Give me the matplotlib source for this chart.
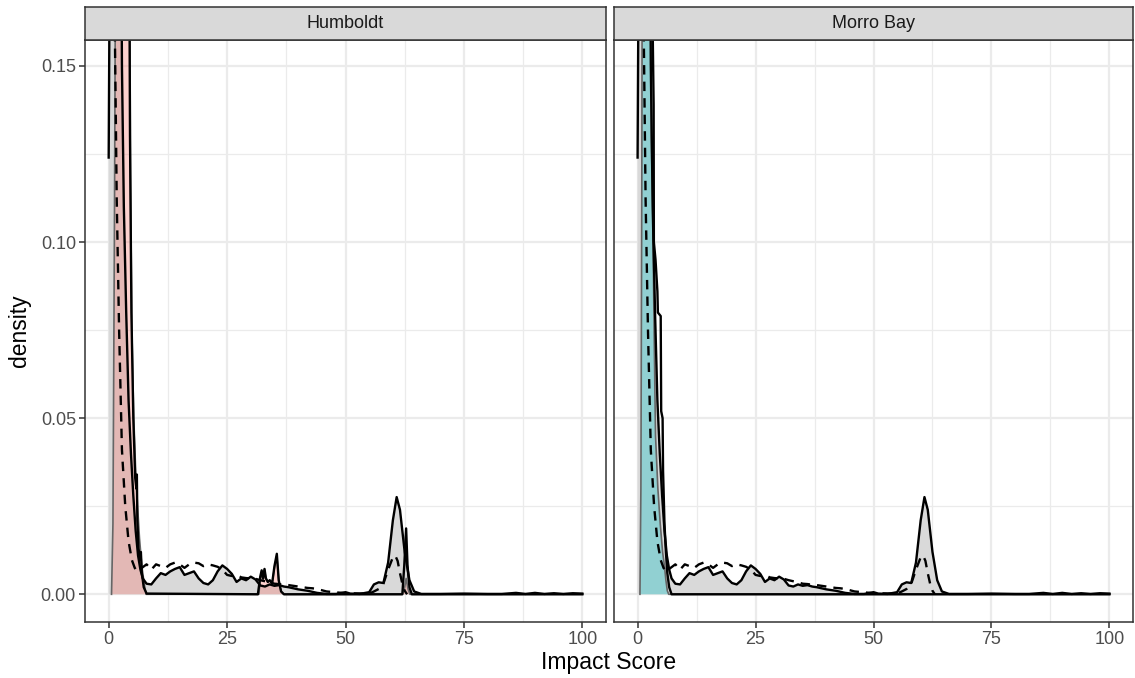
import matplotlib
matplotlib.use("Agg")
import matplotlib.pyplot as plt

plt.rcParams['font.family'] = ['Liberation Sans', 'DejaVu Sans']

# ---- data ----
panels = ["Humboldt", "Morro Bay"]
site_colors = ["#F8766D", "#00BFC4"]

# overall density (grey fill, solid black outline) - same in both panels
overall_x = [0, 0.3, 2.6, 2.8, 3.2, 3.7, 4.2, 4.7, 5.2, 5.7, 6.2, 6.7, 7.2,
             8, 9, 10, 11, 12, 13, 14, 15, 16, 17, 18, 19, 20, 21, 22, 23, 24, 25,
             26, 27, 28, 29, 30, 31, 32, 33, 34, 35, 36, 37, 38,
             40, 42, 44, 46, 48, 50, 51, 53, 55, 56, 57, 58, 59, 60, 60.8, 61.5,
             62.5, 63.5, 64.5, 66,
             70, 75, 80, 83, 86, 88, 90, 92, 94, 96, 98, 100]
overall_y = [0.124, 0.2, 0.2, 0.15, 0.11, 0.08, 0.055, 0.04, 0.028, 0.018, 0.011, 0.007, 0.0045,
             0.003, 0.0028, 0.0045, 0.006, 0.0055, 0.0065, 0.0072, 0.0077, 0.0055, 0.006, 0.0065,
             0.0045, 0.0032, 0.0028, 0.004, 0.0065, 0.0082, 0.0072, 0.0058, 0.0035, 0.0045, 0.004,
             0.005, 0.0042, 0.0025, 0.0022, 0.0028, 0.0024, 0.0026, 0.0022, 0.002,
             0.0014, 0.001, 0.0004, 0.0001, 0.0001, 0.0006, 0.0002, 0.0001, 0.0006, 0.0028,
             0.0034, 0.0032, 0.009, 0.021, 0.0276, 0.024, 0.012, 0.004, 0.0008, 0.0001,
             0.0001, 0.0002, 0.0001, 0.0001, 0.0004, 0.0001, 0.0004, 0.0001, 0.0003, 0.0001,
             0.0003, 0.0002]

# overall density of second measure (dashed) - same in both panels
dashed_x = [1.0, 1.3, 1.7, 2.2, 2.8, 3.5, 4.2, 4.9, 5.5, 6, 7, 8, 9, 10, 11, 12, 13, 14, 15,
            16, 17, 18, 19, 20, 21, 22, 23, 24, 25, 26, 27, 28, 29, 30, 31, 32, 33, 34, 35,
            36, 37, 38, 39, 40, 41, 42, 43, 44, 46, 50, 55, 56, 57, 58, 59, 60, 60.5, 61,
            61.5, 62, 62.5, 63]
dashed_y = [0.2, 0.16, 0.112, 0.075, 0.041, 0.025, 0.015, 0.0097, 0.0075, 0.0065, 0.0075,
            0.0085, 0.007, 0.0085, 0.008, 0.0075, 0.0085, 0.009, 0.0085, 0.0075, 0.0085,
            0.009, 0.0088, 0.008, 0.0085, 0.0082, 0.0078, 0.007, 0.0055, 0.0052, 0.0055,
            0.0048, 0.0046, 0.0045, 0.0044, 0.004, 0.0037, 0.0034, 0.003, 0.0029, 0.0027,
            0.0026, 0.0024, 0.0022, 0.002, 0.0018, 0.0017, 0.0015, 0.0008, 0.0003, 0.0002,
            0.0008, 0.0015, 0.003, 0.007, 0.0105, 0.011, 0.0095, 0.006, 0.003, 0.001, 0.0]

# site density (coloured fill)
humboldt_fill_x = [0.6, 0.9, 1.2, 1.5, 4.4, 4.6, 4.9, 5.3, 5.7, 6.1, 6.5, 7.0, 7.5, 7.9,
                   31.7, 32, 32.3, 32.6, 32.9, 33.2, 33.6, 34, 34.5, 35, 35.5, 35.9, 36.4,
                   37, 62, 62.5, 62.8, 63.2, 63.6, 100]
humboldt_fill_y = [0, 0.02, 0.1, 0.2, 0.2, 0.12, 0.075, 0.05, 0.035, 0.025, 0.016, 0.008,
                   0.003, 0, 0, 0.004, 0.0065, 0.004, 0.007, 0.0045, 0.0035, 0.004, 0.003,
                   0.0075, 0.011, 0.004, 0.0008, 0, 0, 0.002, 0.0045, 0.0015, 0, 0]
morro_fill_x = [0.5, 0.7, 0.9, 1.0, 2.7, 2.9, 3.2, 3.5, 3.8, 4.3, 4.8, 5.3, 5.7, 6.0, 6.3,
                6.6, 100]
morro_fill_y = [0, 0.03, 0.12, 0.2, 0.2, 0.13, 0.11, 0.075, 0.045, 0.03, 0.02, 0.012,
                0.008, 0.004, 0.001, 0, 0]

# site density of second measure (solid black, spiky)
humboldt_line_x = [4.3, 4.5, 4.8, 5.2, 5.6, 5.85, 5.95, 6.05, 6.3, 6.6, 6.8, 7.0, 7.4, 8,
                   31.5, 32, 32.3, 32.6, 32.9, 33.2, 33.6, 34, 34.5, 35, 35.5, 35.9, 36.4,
                   37, 62, 62.4, 62.8, 63.1, 63.5, 64, 100]
humboldt_line_y = [0.2, 0.13, 0.08, 0.05, 0.033, 0.03, 0.034, 0.021, 0.013, 0.01, 0.012,
                   0.006, 0.002, 0.0002, 0, 0.005, 0.0068, 0.0045, 0.0072, 0.0045, 0.0035,
                   0.004, 0.003, 0.008, 0.0115, 0.004, 0.0008, 0, 0, 0.008, 0.0187, 0.008,
                   0.002, 0, 0]
morro_line_x = [2.8, 3.2, 3.4, 3.45, 3.8, 4.2, 4.3, 4.9, 5.0, 5.3, 5.4, 5.7, 6.0, 6.3, 6.7,
                7.2, 100]
morro_line_y = [0.2, 0.16, 0.139, 0.1, 0.095, 0.086, 0.08, 0.079, 0.052, 0.05, 0.035, 0.02,
                0.012, 0.006, 0.002, 0, 0]

fill_x = [humboldt_fill_x, morro_fill_x]
fill_y = [humboldt_fill_y, morro_fill_y]
line_x = [humboldt_line_x, morro_line_x]
line_y = [humboldt_line_y, morro_line_y]

x_ticks = [0, 25, 50, 75, 100]
y_ticks = [0.00, 0.05, 0.10, 0.15]
y_tick_labels = ["0.00", "0.05", "0.10", "0.15"]

# ---- figure ----
W, H = 1135, 678
fig = plt.figure(figsize=(W / 100, H / 100), dpi=100)

panel_px = [(85, 606), (614, 1133)]
top_px, bot_px = 40, 622
strip_top_px = 7

grey20 = "#333333"
grey30 = "#4D4D4D"
grid_col = "#EBEBEB"
LW = 1.7

for i, name in enumerate(panels):
    l, r = panel_px[i]
    ax = fig.add_axes([l / W, 1 - bot_px / H, (r - l) / W, (bot_px - top_px) / H])
    ax.set_xlim(-5, 105)
    ax.set_ylim(-0.00787, 0.15738)
    ax.set_facecolor("white")

    # grid
    for v in [12.5, 37.5, 62.5, 87.5]:
        ax.axvline(v, color=grid_col, lw=0.9, zorder=0)
    for v in [0.025, 0.075, 0.125]:
        ax.axhline(v, color=grid_col, lw=0.9, zorder=0)
    for v in x_ticks:
        ax.axvline(v, color=grid_col, lw=1.6, zorder=0)
    for v in y_ticks:
        ax.axhline(v, color=grid_col, lw=1.6, zorder=0)

    # overall grey density
    ax.fill_between(overall_x, overall_y, 0, color="#D9D9D9", lw=0, zorder=1)
    # site coloured density
    ax.fill_between(fill_x[i], fill_y[i], 0, color=site_colors[i], alpha=0.33, lw=0, zorder=2)
    ax.plot(fill_x[i], fill_y[i], color="#666666", lw=1.2, zorder=3)
    # dashed overall
    ax.plot(dashed_x, dashed_y, color="black", lw=LW, ls=(0, (4, 3)), zorder=4)
    # overall outline
    ax.plot(overall_x, overall_y, color="black", lw=LW, zorder=5)
    # site spiky solid
    ax.plot(line_x[i], line_y[i], color="black", lw=LW, zorder=5)

    for s in ax.spines.values():
        s.set_color(grey20)
        s.set_linewidth(1.1)
        s.set_zorder(10)

    ax.set_xticks(x_ticks)
    ax.set_xticklabels([str(t) for t in x_ticks])
    ax.tick_params(axis="both", colors=grey20, length=4.5, width=1.1, labelsize=13,
                   labelcolor=grey30, pad=2)
    ax.set_yticks(y_ticks)
    if i == 0:
        ax.set_yticklabels(y_tick_labels)
    else:
        ax.set_yticklabels([])
        ax.tick_params(axis="y", length=0)

    # strip
    sax = fig.add_axes([l / W, 1 - top_px / H, (r - l) / W, (top_px - strip_top_px) / H])
    sax.set_xticks([])
    sax.set_yticks([])
    sax.set_facecolor("#D9D9D9")
    for s in sax.spines.values():
        s.set_color(grey20)
        s.set_linewidth(1.1)
    sax.text(0.5, 0.5, name, ha="center", va="center", fontsize=13, color="#1A1A1A",
             transform=sax.transAxes)

fig.text((85 + 1133) / 2 / W, 1 - 662 / H, "Impact Score", ha="center", va="center",
         fontsize=16.5, color="black")
fig.text(20 / W, 1 - 331 / H, "density", ha="center", va="center", rotation=90,
         fontsize=16.5, color="black")

fig.savefig("out.png", dpi=100)
